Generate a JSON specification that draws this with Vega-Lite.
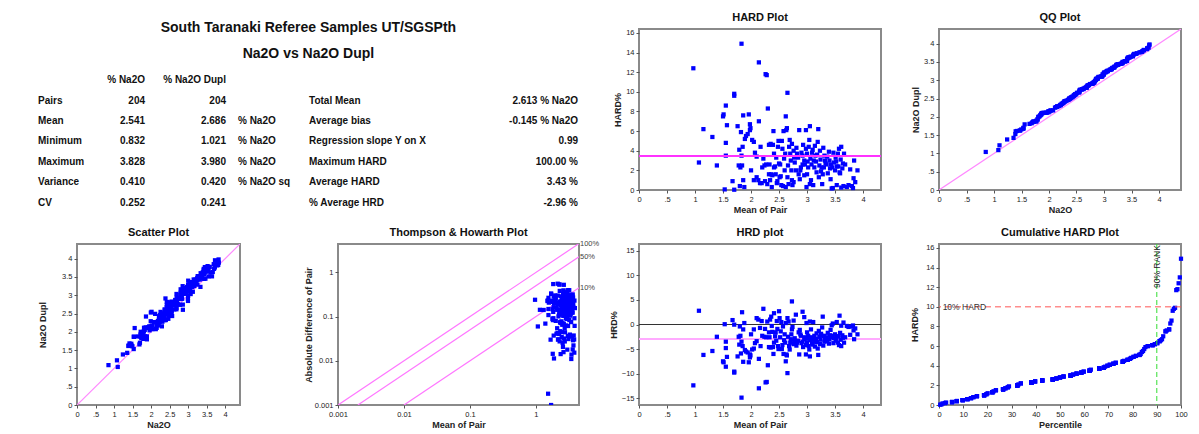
{
"$schema":"https://vega.github.io/schema/vega-lite/v6.json",
"padding":{"left":37,"top":10,"right":0,"bottom":0},
"autosize":{"type":"pad"},
"columns":4,
"bounds":"flush",
"spacing":{"row":54,"column":58},
"config":{
 "font":"Liberation Sans",
 "view":{"stroke":"#8a8a8a","strokeWidth":2},
 "axis":{"domain":false,"grid":false,"tickSize":3,"tickColor":"#555","labelFontSize":7.5,"labelColor":"#222","labelPadding":2,"labelFlush":false,"labelOverlap":false,"titleFontSize":9,"titleFontWeight":"bold","titleColor":"#222","titlePadding":3},
 "title":{"fontSize":11,"fontWeight":"bold","offset":6,"frame":"group","color":"#111"}
},
"datasets":{
"stats":[
{"k":"title","row":-2.54,"t":"South Taranaki Referee Samples UT/SGSPth"},
{"k":"title","row":-1.27,"t":"Na2O vs Na2O Dupl"},
{"k":"c1","row":0,"t":"% Na2O"},{"k":"c2","row":0,"t":"% Na2O Dupl"},
{"k":"lab","row":1,"t":"Pairs"},{"k":"c1","row":1,"t":"204"},{"k":"c2","row":1,"t":"204"},{"k":"rl","row":1,"t":"Total Mean"},{"k":"rv","row":1,"t":"2.613 % Na2O"},
{"k":"lab","row":2,"t":"Mean"},{"k":"c1","row":2,"t":"2.541"},{"k":"c2","row":2,"t":"2.686"},{"k":"u","row":2,"t":"% Na2O"},{"k":"rl","row":2,"t":"Average bias"},{"k":"rv","row":2,"t":"-0.145 % Na2O"},
{"k":"lab","row":3,"t":"Minimum"},{"k":"c1","row":3,"t":"0.832"},{"k":"c2","row":3,"t":"1.021"},{"k":"u","row":3,"t":"% Na2O"},{"k":"rl","row":3,"t":"Regression slope Y on X"},{"k":"rv","row":3,"t":"0.99"},
{"k":"lab","row":4,"t":"Maximum"},{"k":"c1","row":4,"t":"3.828"},{"k":"c2","row":4,"t":"3.980"},{"k":"u","row":4,"t":"% Na2O"},{"k":"rl","row":4,"t":"Maximum HARD"},{"k":"rv","row":4,"t":"100.00 %"},
{"k":"lab","row":5,"t":"Variance"},{"k":"c1","row":5,"t":"0.410"},{"k":"c2","row":5,"t":"0.420"},{"k":"u","row":5,"t":"% Na2O sq"},{"k":"rl","row":5,"t":"Average HARD"},{"k":"rv","row":5,"t":"3.43 %"},
{"k":"lab","row":6,"t":"CV"},{"k":"c1","row":6,"t":"0.252"},{"k":"c2","row":6,"t":"0.241"},{"k":"rl","row":6,"t":"% Average HRD"},{"k":"rv","row":6,"t":"-2.96 %"}
],
"diag":[{"v":0},{"v":4.4}],
"thlines":[
{"p":"100%","m":0.001,"d":0.001},{"p":"100%","m":4.5,"d":4.5},
{"p":"50%","m":0.002,"d":0.001},{"p":"50%","m":4.5,"d":2.25},
{"p":"10%","m":0.01,"d":0.001},{"p":"10%","m":4.5,"d":0.45}
],
"pairs":[
{"mean":0.97,"hrd":-12.4,"hard":12.4,"na2o":0.850,"dupl":1.090,"diff":0.2406},
{"mean":1.07,"hrd":2.8,"hard":2.8,"na2o":1.100,"dupl":1.040,"diff":0.0599},
{"mean":1.15,"hrd":-6.2,"hard":6.2,"na2o":1.079,"dupl":1.221,"diff":0.1426},
{"mean":1.31,"hrd":-5.4,"hard":5.4,"na2o":1.239,"dupl":1.381,"diff":0.1415},
{"mean":1.39,"hrd":-2.5,"hard":2.5,"na2o":1.355,"dupl":1.425,"diff":0.0695},
{"mean":1.50,"hrd":-7.5,"hard":7.5,"na2o":1.388,"dupl":1.613,"diff":0.225},
{"mean":1.51,"hrd":-7.7,"hard":7.7,"na2o":1.394,"dupl":1.626,"diff":0.2325},
{"mean":1.53,"hrd":0.06,"hard":0.06,"na2o":1.531,"dupl":1.529,"diff":0.0018},
{"mean":1.55,"hrd":-8.6,"hard":8.6,"na2o":1.417,"dupl":1.683,"diff":0.2666},
{"mean":1.55,"hrd":-4.8,"hard":4.8,"na2o":1.476,"dupl":1.624,"diff":0.1488},
{"mean":1.55,"hrd":-3.5,"hard":3.5,"na2o":1.496,"dupl":1.604,"diff":0.1085},
{"mean":1.57,"hrd":-6.6,"hard":6.6,"na2o":1.466,"dupl":1.674,"diff":0.2072},
{"mean":1.67,"hrd":0.9,"hard":0.9,"na2o":1.685,"dupl":1.655,"diff":0.0301},
{"mean":1.70,"hrd":-9.8,"hard":9.8,"na2o":1.533,"dupl":1.867,"diff":0.3332},
{"mean":1.70,"hrd":-9.6,"hard":9.6,"na2o":1.537,"dupl":1.863,"diff":0.3264},
{"mean":1.70,"hrd":-0.03,"hard":0.03,"na2o":1.699,"dupl":1.701,"diff":0.001},
{"mean":1.76,"hrd":-6.5,"hard":6.5,"na2o":1.646,"dupl":1.874,"diff":0.2288},
{"mean":1.78,"hrd":-2.5,"hard":2.5,"na2o":1.736,"dupl":1.825,"diff":0.089},
{"mean":1.79,"hrd":-4.1,"hard":4.1,"na2o":1.717,"dupl":1.863,"diff":0.1468},
{"mean":1.80,"hrd":-0.4,"hard":0.4,"na2o":1.793,"dupl":1.807,"diff":0.0144},
{"mean":1.82,"hrd":-5.9,"hard":5.9,"na2o":1.713,"dupl":1.927,"diff":0.2148},
{"mean":1.83,"hrd":-14.9,"hard":14.9,"na2o":1.557,"dupl":2.103,"diff":0.5453},
{"mean":1.85,"hrd":-4.4,"hard":4.4,"na2o":1.769,"dupl":1.931,"diff":0.1628},
{"mean":1.83,"hrd":-3.5,"hard":3.5,"na2o":1.766,"dupl":1.894,"diff":0.1281},
{"mean":1.81,"hrd":-2.3,"hard":2.3,"na2o":1.768,"dupl":1.852,"diff":0.0833},
{"mean":1.84,"hrd":2.5,"hard":2.5,"na2o":1.886,"dupl":1.794,"diff":0.092},
{"mean":1.86,"hrd":-7.6,"hard":7.6,"na2o":1.719,"dupl":2.001,"diff":0.2827},
{"mean":1.86,"hrd":-1.0,"hard":1.0,"na2o":1.841,"dupl":1.879,"diff":0.0372},
{"mean":1.88,"hrd":0.3,"hard":0.3,"na2o":1.886,"dupl":1.874,"diff":0.0113},
{"mean":1.89,"hrd":-5.2,"hard":5.2,"na2o":1.792,"dupl":1.988,"diff":0.1966},
{"mean":1.91,"hrd":-5.5,"hard":5.5,"na2o":1.805,"dupl":2.015,"diff":0.2101},
{"mean":1.94,"hrd":-5.7,"hard":5.7,"na2o":1.829,"dupl":2.051,"diff":0.2212},
{"mean":1.96,"hrd":-7.7,"hard":7.7,"na2o":1.809,"dupl":2.111,"diff":0.3018},
{"mean":1.98,"hrd":-6.1,"hard":6.1,"na2o":1.859,"dupl":2.101,"diff":0.2416},
{"mean":1.98,"hrd":-6.7,"hard":6.7,"na2o":1.847,"dupl":2.113,"diff":0.2653},
{"mean":1.99,"hrd":-6.3,"hard":6.3,"na2o":1.865,"dupl":2.115,"diff":0.2507},
{"mean":2.00,"hrd":-2.0,"hard":2.0,"na2o":1.960,"dupl":2.040,"diff":0.08},
{"mean":2.02,"hrd":-5.1,"hard":5.1,"na2o":1.917,"dupl":2.123,"diff":0.206},
{"mean":2.05,"hrd":-4.9,"hard":4.9,"na2o":1.950,"dupl":2.150,"diff":0.2009},
{"mean":2.07,"hrd":-3.8,"hard":3.8,"na2o":1.991,"dupl":2.149,"diff":0.1573},
{"mean":2.10,"hrd":-3.4,"hard":3.4,"na2o":2.029,"dupl":2.171,"diff":0.1428},
{"mean":2.14,"hrd":-13.0,"hard":13.0,"na2o":1.862,"dupl":2.418,"diff":0.5564},
{"mean":2.14,"hrd":-7.0,"hard":7.0,"na2o":1.990,"dupl":2.290,"diff":0.2996},
{"mean":2.10,"hrd":1.3,"hard":1.3,"na2o":2.127,"dupl":2.073,"diff":0.0546},
{"mean":2.13,"hrd":1.0,"hard":1.0,"na2o":2.151,"dupl":2.109,"diff":0.0426},
{"mean":2.16,"hrd":-0.7,"hard":0.7,"na2o":2.145,"dupl":2.175,"diff":0.0302},
{"mean":2.17,"hrd":-4.4,"hard":4.4,"na2o":2.075,"dupl":2.265,"diff":0.191},
{"mean":2.20,"hrd":-2.3,"hard":2.3,"na2o":2.149,"dupl":2.251,"diff":0.1012},
{"mean":2.22,"hrd":3.2,"hard":3.2,"na2o":2.291,"dupl":2.149,"diff":0.1421},
{"mean":2.24,"hrd":-2.5,"hard":2.5,"na2o":2.184,"dupl":2.296,"diff":0.112},
{"mean":2.26,"hrd":-11.8,"hard":11.8,"na2o":1.993,"dupl":2.527,"diff":0.5334},
{"mean":2.28,"hrd":-11.7,"hard":11.7,"na2o":2.013,"dupl":2.547,"diff":0.5335},
{"mean":2.30,"hrd":-8.3,"hard":8.3,"na2o":2.109,"dupl":2.491,"diff":0.3818},
{"mean":2.32,"hrd":-4.6,"hard":4.6,"na2o":2.213,"dupl":2.427,"diff":0.2134},
{"mean":2.32,"hrd":-1.6,"hard":1.6,"na2o":2.283,"dupl":2.357,"diff":0.0742},
{"mean":2.29,"hrd":0.6,"hard":0.6,"na2o":2.304,"dupl":2.276,"diff":0.0275},
{"mean":2.34,"hrd":1.0,"hard":1.0,"na2o":2.363,"dupl":2.317,"diff":0.0468},
{"mean":2.37,"hrd":-0.3,"hard":0.3,"na2o":2.363,"dupl":2.377,"diff":0.0142},
{"mean":2.39,"hrd":-4.6,"hard":4.6,"na2o":2.280,"dupl":2.500,"diff":0.2199},
{"mean":2.41,"hrd":-3.7,"hard":3.7,"na2o":2.321,"dupl":2.499,"diff":0.1783},
{"mean":2.41,"hrd":2.3,"hard":2.3,"na2o":2.465,"dupl":2.355,"diff":0.1109},
{"mean":2.44,"hrd":-1.6,"hard":1.6,"na2o":2.401,"dupl":2.479,"diff":0.0781},
{"mean":2.46,"hrd":0.7,"hard":0.7,"na2o":2.477,"dupl":2.443,"diff":0.0344},
{"mean":2.48,"hrd":-4.4,"hard":4.4,"na2o":2.371,"dupl":2.589,"diff":0.2182},
{"mean":2.49,"hrd":-5.0,"hard":5.0,"na2o":2.366,"dupl":2.614,"diff":0.249},
{"mean":2.50,"hrd":2.7,"hard":2.7,"na2o":2.568,"dupl":2.432,"diff":0.135},
{"mean":2.51,"hrd":1.3,"hard":1.3,"na2o":2.543,"dupl":2.477,"diff":0.0653},
{"mean":2.54,"hrd":0.5,"hard":0.5,"na2o":2.553,"dupl":2.527,"diff":0.0254},
{"mean":2.55,"hrd":-5.0,"hard":5.0,"na2o":2.422,"dupl":2.678,"diff":0.255},
{"mean":2.56,"hrd":-4.2,"hard":4.2,"na2o":2.452,"dupl":2.668,"diff":0.215},
{"mean":2.58,"hrd":-6.0,"hard":6.0,"na2o":2.425,"dupl":2.735,"diff":0.3096},
{"mean":2.60,"hrd":-2.0,"hard":2.0,"na2o":2.548,"dupl":2.652,"diff":0.104},
{"mean":2.61,"hrd":-3.7,"hard":3.7,"na2o":2.513,"dupl":2.707,"diff":0.1931},
{"mean":2.62,"hrd":-7.5,"hard":7.5,"na2o":2.424,"dupl":2.817,"diff":0.393},
{"mean":2.63,"hrd":-6.1,"hard":6.1,"na2o":2.470,"dupl":2.790,"diff":0.3209},
{"mean":2.64,"hrd":-6.3,"hard":6.3,"na2o":2.474,"dupl":2.806,"diff":0.3326},
{"mean":2.65,"hrd":-9.9,"hard":9.9,"na2o":2.388,"dupl":2.912,"diff":0.5247},
{"mean":2.65,"hrd":1.3,"hard":1.3,"na2o":2.684,"dupl":2.616,"diff":0.0689},
{"mean":2.67,"hrd":0.6,"hard":0.6,"na2o":2.686,"dupl":2.654,"diff":0.032},
{"mean":2.68,"hrd":-4.4,"hard":4.4,"na2o":2.562,"dupl":2.798,"diff":0.2358},
{"mean":2.69,"hrd":-5.1,"hard":5.1,"na2o":2.553,"dupl":2.827,"diff":0.2744},
{"mean":2.70,"hrd":-3.7,"hard":3.7,"na2o":2.600,"dupl":2.800,"diff":0.1998},
{"mean":2.72,"hrd":-2.0,"hard":2.0,"na2o":2.666,"dupl":2.774,"diff":0.1088},
{"mean":2.73,"hrd":4.7,"hard":4.7,"na2o":2.858,"dupl":2.602,"diff":0.2566},
{"mean":2.73,"hrd":-1.0,"hard":1.0,"na2o":2.703,"dupl":2.757,"diff":0.0546},
{"mean":2.76,"hrd":-4.0,"hard":4.0,"na2o":2.650,"dupl":2.870,"diff":0.2208},
{"mean":2.77,"hrd":-3.3,"hard":3.3,"na2o":2.679,"dupl":2.861,"diff":0.1828},
{"mean":2.80,"hrd":2.0,"hard":2.0,"na2o":2.856,"dupl":2.744,"diff":0.112},
{"mean":2.82,"hrd":-3.7,"hard":3.7,"na2o":2.716,"dupl":2.924,"diff":0.2087},
{"mean":2.85,"hrd":-1.6,"hard":1.6,"na2o":2.804,"dupl":2.896,"diff":0.0912},
{"mean":2.86,"hrd":-6.1,"hard":6.1,"na2o":2.686,"dupl":3.034,"diff":0.3489},
{"mean":2.87,"hrd":-1.1,"hard":1.1,"na2o":2.838,"dupl":2.902,"diff":0.0631},
{"mean":2.89,"hrd":-2.3,"hard":2.3,"na2o":2.824,"dupl":2.956,"diff":0.1329},
{"mean":2.92,"hrd":2.6,"hard":2.6,"na2o":2.996,"dupl":2.844,"diff":0.1518},
{"mean":2.95,"hrd":1.5,"hard":1.5,"na2o":2.994,"dupl":2.906,"diff":0.0885},
{"mean":2.92,"hrd":-3.5,"hard":3.5,"na2o":2.818,"dupl":3.022,"diff":0.2044},
{"mean":2.95,"hrd":-3.0,"hard":3.0,"na2o":2.862,"dupl":3.039,"diff":0.177},
{"mean":2.98,"hrd":-6.1,"hard":6.1,"na2o":2.798,"dupl":3.162,"diff":0.3636},
{"mean":2.98,"hrd":-4.2,"hard":4.2,"na2o":2.855,"dupl":3.105,"diff":0.2503},
{"mean":3.00,"hrd":-1.6,"hard":1.6,"na2o":2.952,"dupl":3.048,"diff":0.096},
{"mean":3.00,"hrd":-3.7,"hard":3.7,"na2o":2.889,"dupl":3.111,"diff":0.222},
{"mean":3.02,"hrd":-2.3,"hard":2.3,"na2o":2.951,"dupl":3.089,"diff":0.1389},
{"mean":3.04,"hrd":-5.1,"hard":5.1,"na2o":2.885,"dupl":3.195,"diff":0.3101},
{"mean":3.05,"hrd":-6.5,"hard":6.5,"na2o":2.852,"dupl":3.248,"diff":0.3965},
{"mean":3.06,"hrd":-3.2,"hard":3.2,"na2o":2.962,"dupl":3.158,"diff":0.1958},
{"mean":3.07,"hrd":-1.0,"hard":1.0,"na2o":3.039,"dupl":3.101,"diff":0.0614},
{"mean":3.10,"hrd":-4.1,"hard":4.1,"na2o":2.973,"dupl":3.227,"diff":0.2542},
{"mean":3.11,"hrd":0.5,"hard":0.5,"na2o":3.126,"dupl":3.094,"diff":0.0311},
{"mean":3.13,"hrd":-2.3,"hard":2.3,"na2o":3.058,"dupl":3.202,"diff":0.144},
{"mean":3.15,"hrd":-3.5,"hard":3.5,"na2o":3.040,"dupl":3.260,"diff":0.2205},
{"mean":3.17,"hrd":-1.8,"hard":1.8,"na2o":3.113,"dupl":3.227,"diff":0.1141},
{"mean":3.19,"hrd":-4.9,"hard":4.9,"na2o":3.034,"dupl":3.346,"diff":0.3126},
{"mean":3.20,"hrd":-6.2,"hard":6.2,"na2o":3.002,"dupl":3.398,"diff":0.3968},
{"mean":3.21,"hrd":-1.3,"hard":1.3,"na2o":3.168,"dupl":3.252,"diff":0.0835},
{"mean":3.24,"hrd":-3.1,"hard":3.1,"na2o":3.140,"dupl":3.340,"diff":0.2009},
{"mean":3.26,"hrd":-2.3,"hard":2.3,"na2o":3.185,"dupl":3.335,"diff":0.15},
{"mean":3.27,"hrd":-0.6,"hard":0.6,"na2o":3.250,"dupl":3.290,"diff":0.0392},
{"mean":3.28,"hrd":1.6,"hard":1.6,"na2o":3.332,"dupl":3.228,"diff":0.105},
{"mean":3.29,"hrd":-4.3,"hard":4.3,"na2o":3.149,"dupl":3.431,"diff":0.2829},
{"mean":3.31,"hrd":-3.5,"hard":3.5,"na2o":3.194,"dupl":3.426,"diff":0.2317},
{"mean":3.33,"hrd":-2.7,"hard":2.7,"na2o":3.240,"dupl":3.420,"diff":0.1798},
{"mean":3.36,"hrd":-3.4,"hard":3.4,"na2o":3.246,"dupl":3.474,"diff":0.2285},
{"mean":3.39,"hrd":-3.9,"hard":3.9,"na2o":3.258,"dupl":3.522,"diff":0.2644},
{"mean":3.41,"hrd":-2.2,"hard":2.2,"na2o":3.335,"dupl":3.485,"diff":0.15},
{"mean":3.42,"hrd":-1.1,"hard":1.1,"na2o":3.382,"dupl":3.458,"diff":0.0752},
{"mean":3.44,"hrd":-0.16,"hard":0.16,"na2o":3.434,"dupl":3.446,"diff":0.011},
{"mean":3.45,"hrd":-2.3,"hard":2.3,"na2o":3.371,"dupl":3.529,"diff":0.1587},
{"mean":3.46,"hrd":0.2,"hard":0.2,"na2o":3.467,"dupl":3.453,"diff":0.0138},
{"mean":3.48,"hrd":-2.8,"hard":2.8,"na2o":3.383,"dupl":3.577,"diff":0.1949},
{"mean":3.51,"hrd":-3.3,"hard":3.3,"na2o":3.394,"dupl":3.626,"diff":0.2317},
{"mean":3.53,"hrd":-2.4,"hard":2.4,"na2o":3.445,"dupl":3.615,"diff":0.1694},
{"mean":3.55,"hrd":-3.7,"hard":3.7,"na2o":3.419,"dupl":3.681,"diff":0.2627},
{"mean":3.57,"hrd":-4.2,"hard":4.2,"na2o":3.420,"dupl":3.720,"diff":0.2999},
{"mean":3.58,"hrd":1.8,"hard":1.8,"na2o":3.644,"dupl":3.516,"diff":0.1289},
{"mean":3.59,"hrd":-1.7,"hard":1.7,"na2o":3.529,"dupl":3.651,"diff":0.1221},
{"mean":3.61,"hrd":-4.4,"hard":4.4,"na2o":3.451,"dupl":3.769,"diff":0.3177},
{"mean":3.61,"hrd":-0.25,"hard":0.25,"na2o":3.601,"dupl":3.619,"diff":0.0181},
{"mean":3.64,"hrd":-2.7,"hard":2.7,"na2o":3.542,"dupl":3.738,"diff":0.1966},
{"mean":3.66,"hrd":-3.7,"hard":3.7,"na2o":3.525,"dupl":3.795,"diff":0.2708},
{"mean":3.71,"hrd":-0.3,"hard":0.3,"na2o":3.699,"dupl":3.721,"diff":0.0223},
{"mean":3.74,"hrd":-0.5,"hard":0.5,"na2o":3.721,"dupl":3.759,"diff":0.0374},
{"mean":3.77,"hrd":-2.1,"hard":2.1,"na2o":3.691,"dupl":3.849,"diff":0.1583},
{"mean":3.84,"hrd":-3.0,"hard":3.0,"na2o":3.725,"dupl":3.955,"diff":0.2304},
{"mean":3.82,"hrd":-0.2,"hard":0.2,"na2o":3.812,"dupl":3.828,"diff":0.0153},
{"mean":3.86,"hrd":-0.8,"hard":0.8,"na2o":3.828,"dupl":3.891,"diff":0.0618},
{"mean":3.90,"hrd":-2.0,"hard":2.0,"na2o":3.822,"dupl":3.978,"diff":0.156},
{"mean":2.25,"hrd":-0.9,"hard":0.9,"na2o":2.230,"dupl":2.270,"diff":0.0405},
{"mean":2.27,"hrd":-2.6,"hard":2.6,"na2o":2.211,"dupl":2.329,"diff":0.118},
{"mean":2.33,"hrd":-2.6,"hard":2.6,"na2o":2.269,"dupl":2.391,"diff":0.1212},
{"mean":2.35,"hrd":-4.7,"hard":4.7,"na2o":2.240,"dupl":2.460,"diff":0.2209},
{"mean":2.38,"hrd":-1.5,"hard":1.5,"na2o":2.344,"dupl":2.416,"diff":0.0714},
{"mean":2.43,"hrd":-2.4,"hard":2.4,"na2o":2.372,"dupl":2.488,"diff":0.1166},
{"mean":2.45,"hrd":-3.3,"hard":3.3,"na2o":2.369,"dupl":2.531,"diff":0.1617},
{"mean":2.47,"hrd":-0.9,"hard":0.9,"na2o":2.448,"dupl":2.492,"diff":0.0445},
{"mean":2.52,"hrd":-2.6,"hard":2.6,"na2o":2.454,"dupl":2.586,"diff":0.131},
{"mean":2.53,"hrd":-1.4,"hard":1.4,"na2o":2.495,"dupl":2.565,"diff":0.0708},
{"mean":2.57,"hrd":-0.4,"hard":0.4,"na2o":2.560,"dupl":2.580,"diff":0.0206},
{"mean":2.59,"hrd":-3.2,"hard":3.2,"na2o":2.507,"dupl":2.673,"diff":0.1658},
{"mean":2.66,"hrd":-2.5,"hard":2.5,"na2o":2.594,"dupl":2.726,"diff":0.133},
{"mean":2.71,"hrd":-3.0,"hard":3.0,"na2o":2.629,"dupl":2.791,"diff":0.1626},
{"mean":2.74,"hrd":-0.5,"hard":0.5,"na2o":2.726,"dupl":2.754,"diff":0.0274},
{"mean":2.78,"hrd":-2.8,"hard":2.8,"na2o":2.702,"dupl":2.858,"diff":0.1557},
{"mean":2.81,"hrd":-4.3,"hard":4.3,"na2o":2.689,"dupl":2.931,"diff":0.2417},
{"mean":2.84,"hrd":-3.3,"hard":3.3,"na2o":2.746,"dupl":2.934,"diff":0.1874},
{"mean":2.88,"hrd":-2.0,"hard":2.0,"na2o":2.822,"dupl":2.938,"diff":0.1152},
{"mean":2.90,"hrd":-3.8,"hard":3.8,"na2o":2.790,"dupl":3.010,"diff":0.2204},
{"mean":2.93,"hrd":-4.6,"hard":4.6,"na2o":2.795,"dupl":3.065,"diff":0.2696},
{"mean":2.96,"hrd":-2.6,"hard":2.6,"na2o":2.883,"dupl":3.037,"diff":0.1539},
{"mean":3.01,"hrd":-2.9,"hard":2.9,"na2o":2.923,"dupl":3.097,"diff":0.1746},
{"mean":3.03,"hrd":-4.4,"hard":4.4,"na2o":2.897,"dupl":3.163,"diff":0.2666},
{"mean":3.08,"hrd":-2.6,"hard":2.6,"na2o":3.000,"dupl":3.160,"diff":0.1602},
{"mean":3.09,"hrd":-3.8,"hard":3.8,"na2o":2.973,"dupl":3.207,"diff":0.2348},
{"mean":3.12,"hrd":-3.0,"hard":3.0,"na2o":3.026,"dupl":3.214,"diff":0.1872},
{"mean":3.14,"hrd":-4.5,"hard":4.5,"na2o":2.999,"dupl":3.281,"diff":0.2826},
{"mean":3.16,"hrd":-2.9,"hard":2.9,"na2o":3.068,"dupl":3.252,"diff":0.1833},
{"mean":3.18,"hrd":-3.6,"hard":3.6,"na2o":3.066,"dupl":3.294,"diff":0.229},
{"mean":3.22,"hrd":-2.5,"hard":2.5,"na2o":3.140,"dupl":3.300,"diff":0.161},
{"mean":3.23,"hrd":-4.0,"hard":4.0,"na2o":3.101,"dupl":3.359,"diff":0.2584},
{"mean":3.25,"hrd":-1.9,"hard":1.9,"na2o":3.188,"dupl":3.312,"diff":0.1235},
{"mean":3.30,"hrd":-2.3,"hard":2.3,"na2o":3.224,"dupl":3.376,"diff":0.1518},
{"mean":3.32,"hrd":-3.0,"hard":3.0,"na2o":3.220,"dupl":3.420,"diff":0.1992},
{"mean":3.35,"hrd":-2.6,"hard":2.6,"na2o":3.263,"dupl":3.437,"diff":0.1742},
{"mean":3.37,"hrd":-1.7,"hard":1.7,"na2o":3.313,"dupl":3.427,"diff":0.1146},
{"mean":3.40,"hrd":-3.0,"hard":3.0,"na2o":3.298,"dupl":3.502,"diff":0.204},
{"mean":3.43,"hrd":-2.6,"hard":2.6,"na2o":3.341,"dupl":3.519,"diff":0.1784},
{"mean":3.47,"hrd":-3.8,"hard":3.8,"na2o":3.338,"dupl":3.602,"diff":0.2637},
{"mean":3.50,"hrd":-2.0,"hard":2.0,"na2o":3.430,"dupl":3.570,"diff":0.14},
{"mean":3.52,"hrd":-2.9,"hard":2.9,"na2o":3.418,"dupl":3.622,"diff":0.2042},
{"mean":3.56,"hrd":-2.4,"hard":2.4,"na2o":3.475,"dupl":3.645,"diff":0.1709},
{"mean":3.60,"hrd":-3.1,"hard":3.1,"na2o":3.488,"dupl":3.712,"diff":0.2232},
{"mean":3.63,"hrd":-2.2,"hard":2.2,"na2o":3.550,"dupl":3.710,"diff":0.1597},
{"mean":3.68,"hrd":-2.6,"hard":2.6,"na2o":3.584,"dupl":3.776,"diff":0.1914},
{"mean":3.80,"hrd":-0.4,"hard":0.4,"na2o":3.785,"dupl":3.815,"diff":0.0304},
{"mean":3.83,"hrd":-1.2,"hard":1.2,"na2o":3.784,"dupl":3.876,"diff":0.0919},
{"mean":2.19,"hrd":0.7,"hard":0.7,"na2o":2.205,"dupl":2.175,"diff":0.0307},
{"mean":2.36,"hrd":1.6,"hard":1.6,"na2o":2.398,"dupl":2.322,"diff":0.0755},
{"mean":2.62,"hrd":0.3,"hard":0.3,"na2o":2.628,"dupl":2.612,"diff":0.0157},
{"mean":2.76,"hrd":0.8,"hard":0.8,"na2o":2.782,"dupl":2.738,"diff":0.0442},
{"mean":2.99,"hrd":0.3,"hard":0.3,"na2o":2.999,"dupl":2.981,"diff":0.0179},
{"mean":3.05,"hrd":0.6,"hard":0.6,"na2o":3.068,"dupl":3.032,"diff":0.0366},
{"mean":3.53,"hrd":0.5,"hard":0.5,"na2o":3.548,"dupl":3.512,"diff":0.0353},
{"mean":3.65,"hrd":0.4,"hard":0.4,"na2o":3.665,"dupl":3.635,"diff":0.0292},
{"mean":2.40,"hrd":-6.0,"hard":6.0,"na2o":2.256,"dupl":2.544,"diff":0.288},
{"mean":2.05,"hrd":-1.0,"hard":1.0,"na2o":2.030,"dupl":2.071,"diff":0.041}
]
},
"concat":[
{
 "width":203,"height":161,
 "view":{"stroke":null},
 "data":{"name":"stats"},
 "encoding":{
  "y":{"field":"row","type":"quantitative","scale":{"domain":[-2.488,5.366],"reverse":true,"nice":false,"zero":false},"axis":null},
  "text":{"field":"t"}
 },
 "layer":[
  {"transform":[{"filter":"datum.k == 'title'"}],"mark":{"type":"text","align":"center","baseline":"middle","fontSize":14,"fontWeight":"bold","color":"#111"},"encoding":{"x":{"datum":114,"type":"quantitative","scale":{"domain":[0,100],"nice":false,"zero":false},"axis":null}}},
  {"transform":[{"filter":"datum.k == 'lab'"}],"mark":{"type":"text","align":"left","baseline":"middle","fontSize":10,"fontWeight":"bold","color":"#111"},"encoding":{"x":{"datum":-19.2,"type":"quantitative","scale":{"domain":[0,100],"nice":false,"zero":false},"axis":null}}},
  {"transform":[{"filter":"datum.k == 'c1'"}],"mark":{"type":"text","align":"right","baseline":"middle","fontSize":10,"fontWeight":"bold","color":"#111"},"encoding":{"x":{"datum":33.5,"type":"quantitative","scale":{"domain":[0,100],"nice":false,"zero":false},"axis":null}}},
  {"transform":[{"filter":"datum.k == 'c2'"}],"mark":{"type":"text","align":"right","baseline":"middle","fontSize":10,"fontWeight":"bold","color":"#111"},"encoding":{"x":{"datum":73.4,"type":"quantitative","scale":{"domain":[0,100],"nice":false,"zero":false},"axis":null}}},
  {"transform":[{"filter":"datum.k == 'u'"}],"mark":{"type":"text","align":"left","baseline":"middle","fontSize":10,"fontWeight":"bold","color":"#111"},"encoding":{"x":{"datum":79.3,"type":"quantitative","scale":{"domain":[0,100],"nice":false,"zero":false},"axis":null}}},
  {"transform":[{"filter":"datum.k == 'rl'"}],"mark":{"type":"text","align":"left","baseline":"middle","fontSize":10,"fontWeight":"bold","color":"#111"},"encoding":{"x":{"datum":114.3,"type":"quantitative","scale":{"domain":[0,100],"nice":false,"zero":false},"axis":null}}},
  {"transform":[{"filter":"datum.k == 'rv'"}],"mark":{"type":"text","align":"right","baseline":"middle","fontSize":10,"fontWeight":"bold","color":"#111"},"encoding":{"x":{"datum":246.8,"type":"quantitative","scale":{"domain":[0,100],"nice":false,"zero":false},"axis":null}}}
 ]
},
{
 "width":243,"height":161,
 "view":{"stroke":null},
 "data":{"values":[{"t":" "}]},
 "mark":{"type":"text","opacity":0},
 "encoding":{"text":{"field":"t"}}
},
{
 "title":"HARD Plot",
 "width":242,"height":161,
 "data":{"name":"pairs"},
 "layer":[
  {"mark":{"type":"square","size":18,"color":"#0000ff","opacity":1},
   "encoding":{
    "x":{"field":"mean","type":"quantitative","scale":{"domain":[0,4.32],"nice":false,"zero":false},"axis":{"title":"Mean of Pair","tickCount":50,"values":[0,0.5,1,1.5,2,2.5,3,3.5,4],"format":"~g","labelExpr":"datum.value == 0.5 ? '.5' : datum.label"}},
    "y":{"field":"hard","type":"quantitative","scale":{"domain":[0,16.4],"nice":false},"axis":{"title":"HARD%","tickCount":50,"format":"~g","values":[0,2,4,6,8,10,12,14,16]}}
   }},
  {"mark":{"type":"rule","color":"#ff33ff","strokeWidth":1.3},"encoding":{"y":{"datum":3.43}}}
 ]
},
{
 "title":"QQ Plot",
 "width":242,"height":161,
 "layer":[
  {"data":{"name":"diag"},"mark":{"type":"line","color":"#ff88ff","strokeWidth":1.2,"clip":true},
   "encoding":{
    "x":{"field":"v","type":"quantitative","scale":{"domain":[0,4.4],"nice":false,"zero":false},"axis":{"title":"Na2O","tickCount":50,"values":[0,0.5,1,1.5,2,2.5,3,3.5,4],"format":"~g","labelExpr":"datum.value == 0.5 ? '.5' : datum.label"}},
    "y":{"field":"v","type":"quantitative","scale":{"domain":[0,4.4],"nice":false,"zero":false},"axis":{"title":"Na2O Dupl","tickCount":50,"values":[0,0.5,1,1.5,2,2.5,3,3.5,4],"format":"~g","labelExpr":"datum.value == 0.5 ? '.5' : datum.label"}}
   }},
  {"data":{"name":"pairs"},
   "transform":[
    {"fold":["na2o","dupl"],"as":["key","value"]},
    {"window":[{"op":"row_number","as":"rk"}],"groupby":["key"],"sort":[{"field":"value","order":"ascending"}]},
    {"pivot":"key","value":"value","groupby":["rk"]}
   ],
   "mark":{"type":"square","size":18,"color":"#0000ff","opacity":1},
   "encoding":{"x":{"field":"na2o","type":"quantitative"},"y":{"field":"dupl","type":"quantitative"}}}
 ]
},
{
 "title":"Scatter Plot",
 "width":163,"height":161,
 "layer":[
  {"data":{"name":"diag"},"mark":{"type":"line","color":"#ff88ff","strokeWidth":1.2,"clip":true},
   "encoding":{
    "x":{"field":"v","type":"quantitative","scale":{"domain":[0,4.4],"nice":false,"zero":false},"axis":{"title":"Na2O","tickCount":50,"values":[0,0.5,1,1.5,2,2.5,3,3.5,4],"format":"~g","labelExpr":"datum.value == 0.5 ? '.5' : datum.label"}},
    "y":{"field":"v","type":"quantitative","scale":{"domain":[0,4.4],"nice":false,"zero":false},"axis":{"title":"Na2O Dupl","titlePadding":14,"tickCount":50,"values":[0,0.5,1,1.5,2,2.5,3,3.5,4],"format":"~g","labelExpr":"datum.value == 0.5 ? '.5' : datum.label"}}
   }},
  {"data":{"name":"pairs"},"mark":{"type":"square","size":18,"color":"#0000ff","opacity":1},
   "encoding":{"x":{"field":"na2o","type":"quantitative"},"y":{"field":"dupl","type":"quantitative"}}}
 ]
},
{
 "title":{"text":"Thompson & Howarth Plot","offset":2},
 "width":241,"height":161,
 "layer":[
  {"data":{"name":"thlines"},"mark":{"type":"line","color":"#ff77ff","strokeWidth":1.2,"clip":true},
   "encoding":{
    "x":{"field":"m","type":"quantitative","scale":{"type":"log","domain":[0.001,4.5],"nice":false},"axis":{"title":"Mean of Pair","tickCount":50,"values":[0.001,0.01,0.1,1],"format":"~g"}},
    "y":{"field":"d","type":"quantitative","scale":{"type":"log","domain":[0.001,4.4],"nice":false},"axis":{"title":"Absolute Difference of Pair","titlePadding":1,"tickCount":50,"values":[0.001,0.01,0.1,1],"format":"~g"}},
    "detail":{"field":"p"}
   }},
  {"data":{"name":"thlines"},"transform":[{"filter":"datum.m > 1"}],
   "mark":{"type":"text","align":"left","baseline":"middle","dx":1,"fontSize":7.5,"color":"#444"},
   "encoding":{"x":{"field":"m","type":"quantitative"},"y":{"field":"d","type":"quantitative"},"text":{"field":"p"}}},
  {"data":{"name":"pairs"},"mark":{"type":"square","size":18,"color":"#0000ff","opacity":1,"clip":true},
   "encoding":{"x":{"field":"mean","type":"quantitative"},"y":{"field":"diff","type":"quantitative"}}}
 ]
},
{
 "title":"HRD plot",
 "width":242,"height":161,
 "data":{"name":"pairs"},
 "layer":[
  {"mark":{"type":"rule","color":"#ffaaff","strokeWidth":2},"encoding":{"y":{"datum":-2.96,"type":"quantitative"}}},
  {"mark":{"type":"rule","color":"#333","strokeWidth":1},"encoding":{"y":{"datum":0,"type":"quantitative"}}},
  {"mark":{"type":"square","size":18,"color":"#0000ff","opacity":1},
   "encoding":{
    "x":{"field":"mean","type":"quantitative","scale":{"domain":[0,4.32],"nice":false,"zero":false},"axis":{"title":"Mean of Pair","tickCount":50,"values":[0,0.5,1,1.5,2,2.5,3,3.5,4],"format":"~g","labelExpr":"datum.value == 0.5 ? '.5' : datum.label"}},
    "y":{"field":"hrd","type":"quantitative","scale":{"domain":[-16.4,16.4],"nice":false,"zero":false},"axis":{"title":"HRD%","tickCount":50,"format":"~g","values":[-15,-10,-5,0,5,10,15]}}
   }}
 ]
},
{
 "title":"Cumulative HARD Plot",
 "width":242,"height":161,
 "layer":[
  {"data":{"name":"pairs"},
   "transform":[{"window":[{"op":"cume_dist","as":"cd"}],"sort":[{"field":"hard","order":"ascending"}]}],
   "mark":{"type":"square","size":18,"color":"#0000ff","opacity":1},
   "encoding":{
    "x":{"field":"cd","type":"quantitative","scale":{"domain":[0,1],"nice":false,"zero":false},"axis":{"title":"Percentile","tickCount":50,"values":[0,0.1,0.2,0.3,0.4,0.5,0.6,0.7,0.8,0.9,1],"labelExpr":"format(datum.value*100, 'd')"}},
    "y":{"field":"hard","type":"quantitative","scale":{"domain":[0,16.4],"nice":false},"axis":{"title":"HARD%","titlePadding":6,"tickCount":50,"format":"~g","values":[0,2,4,6,8,10,12,14,16]}}
   }},
  {"data":{"values":[{"t":"10% HARD"}]},"mark":{"type":"rule","color":"#ff5555","strokeWidth":1,"strokeDash":[6,4]},"encoding":{"y":{"datum":10,"type":"quantitative"}}},
  {"data":{"values":[{"t":"90% RANK"}]},"mark":{"type":"rule","color":"#33dd33","strokeWidth":1,"strokeDash":[5,3]},"encoding":{"x":{"datum":0.9,"type":"quantitative"}}},
  {"data":{"values":[{"t":"10% HARD"}]},"mark":{"type":"text","align":"left","baseline":"middle","fontSize":8.5,"color":"#333"},"encoding":{"x":{"datum":0.015,"type":"quantitative"},"y":{"datum":10,"type":"quantitative"},"text":{"field":"t"}}},
  {"data":{"values":[{"t":"90% RANK"}]},"mark":{"type":"text","align":"center","baseline":"middle","angle":270,"fontSize":8.5,"color":"#222"},"encoding":{"x":{"datum":0.9,"type":"quantitative"},"y":{"datum":14.1,"type":"quantitative"},"text":{"field":"t"}}}
 ]
}
]
}
